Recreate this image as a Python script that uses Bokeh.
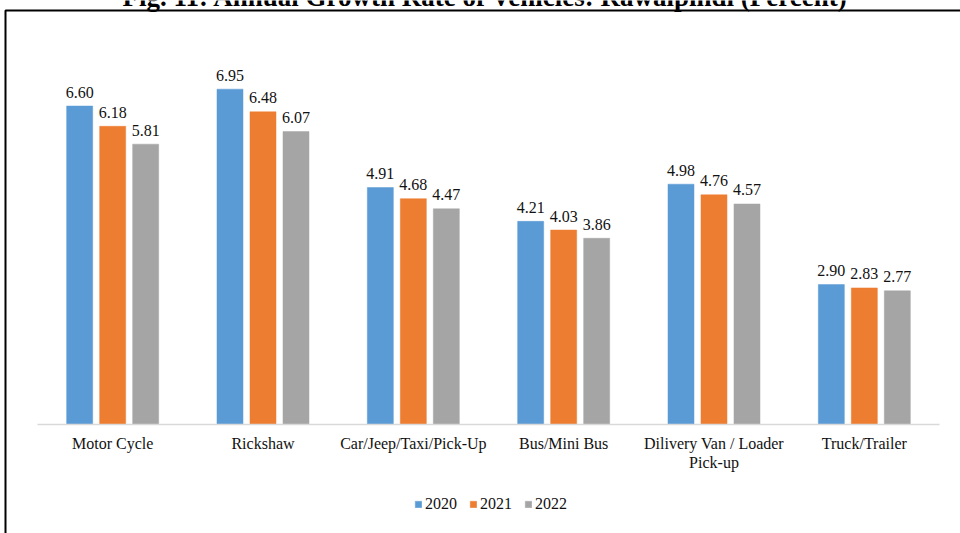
from bokeh.plotting import figure
from bokeh.models import (Range1d, ColumnDataSource, Legend, LegendItem, Label,
                          BoxAnnotation)
from bokeh.transform import dodge
from bokeh.core.properties import value
from bokeh.embed import file_html
from bokeh.resources import INLINE

# Annual growth rate of registered vehicles in Rawalpindi (percent)
categories = ["Motor Cycle", "Rickshaw", "Car/Jeep/Taxi/Pick-Up", "Bus/Mini Bus",
              "Dilivery Van / Loader\nPick-up", "Truck/Trailer"]
years = ["2020", "2021", "2022"]
rate_2020 = [6.60, 6.95, 4.91, 4.21, 4.98, 2.90]
rate_2021 = [6.18, 6.48, 4.68, 4.03, 4.76, 2.83]
rate_2022 = [5.81, 6.07, 4.47, 3.86, 4.57, 2.77]
series = [rate_2020, rate_2021, rate_2022]
colors = ["#5B9BD5", "#ED7D31", "#A5A5A5"]
title_text = "Fig. 11: Annual Growth Rate of Vehicles: Rawalpindi (Percent)"

FONT = "Liberation Serif"
W, H = 960, 533

# pixel layout of the chart body inside the canvas
PLOT_LEFT, PLOT_RIGHT = 37, 939      # extent of the category band
BASELINE = 424                        # y of the zero line
PX_PER_UNIT = 48.25                   # vertical pixels per percentage point
n = len(categories)
cat_w = (PLOT_RIGHT - PLOT_LEFT) / n

x_range = Range1d(-PLOT_LEFT / cat_w, n + (W - PLOT_RIGHT) / cat_w)
y_range = Range1d(-(H - BASELINE) / PX_PER_UNIT, BASELINE / PX_PER_UNIT)

p = figure(width=W, height=H, output_backend="svg", toolbar_location=None,
           x_range=x_range, y_range=y_range,
           x_axis_location=None, y_axis_location=None,
           min_border=0, min_border_left=0, min_border_right=0,
           min_border_top=0, min_border_bottom=0)
p.outline_line_color = None
p.xgrid.grid_line_color = None
p.ygrid.grid_line_color = None
p.background_fill_color = "white"
p.border_fill_color = "white"

pos = [i + 0.5 for i in range(n)]

offsets = [-0.2195, 0.0, 0.2195]
bar_width = 0.173
items = []
for yr, vals, col, off in zip(years, series, colors, offsets):
    src = ColumnDataSource(dict(pos=pos, val=vals,
                                lbl=[f"{v:.2f}" for v in vals]))
    r = p.vbar(x=dodge("pos", off), top="val", width=bar_width, bottom=0,
               source=src, fill_color=col, line_color=col, line_width=0.5)
    p.text(x=dodge("pos", off), y="val", text="lbl", source=src,
           text_align="center", text_baseline="alphabetic", y_offset=-14,
           text_font=value(FONT), text_font_size="16px", text_color="#111111")
    items.append(LegendItem(label=yr, renderers=[r]))

# category axis: base line and category names
p.segment(x0=[0], y0=[0], x1=[n], y1=[0], line_color="#D9D9D9", line_width=1.5)
cat_src = ColumnDataSource(dict(pos=pos, name=categories))
p.text(x="pos", y=0, text="name", source=cat_src, text_align="center",
       text_baseline="top", y_offset=10, text_line_height=1.15,
       text_font=value(FONT), text_font_size="16px", text_color="#111111")

legend = Legend(items=items, orientation="horizontal", location=(414, 20),
                glyph_width=8, glyph_height=8, label_standoff=3, spacing=12,
                padding=0, margin=0, border_line_color=None,
                background_fill_alpha=0, label_text_font="'Liberation Serif', serif",
                label_text_font_size="16px", label_text_color="#111111")
p.add_layout(legend, "center")

# frame around the figure body
p.add_layout(BoxAnnotation(left=5, right=1200, top=10, bottom=800,
                           left_units="canvas", right_units="canvas",
                           top_units="canvas", bottom_units="canvas",
                           fill_alpha=0, line_color="black", line_alpha=1.0,
                           line_width=2))

p.add_layout(Label(x=485, y=-4, x_units="canvas", y_units="canvas", text=title_text,
                   text_align="center", text_baseline="alphabetic",
                   text_font=FONT, text_font_style="bold",
                   text_font_size="27px", text_color="black"))

open("out.html", "w").write(file_html(p, INLINE))
